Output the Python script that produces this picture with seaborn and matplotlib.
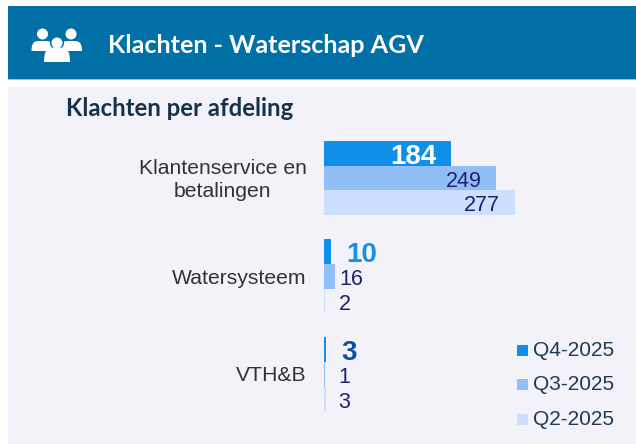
import matplotlib
matplotlib.use("Agg")
import matplotlib.pyplot as plt
import matplotlib.transforms as mtrans
import seaborn as sns
import pandas as pd
from matplotlib.patches import Rectangle, Circle, PathPatch
from matplotlib.path import Path

departments = ["Klantenservice en\nbetalingen", "Watersysteem", "VTH&B"]
quarters = ["Q4-2025", "Q3-2025", "Q2-2025"]
q4_values = [184, 10, 3]
q3_values = [249, 16, 1]
q2_values = [277, 2, 3]
title_text = "Klachten - Waterschap AGV"
subtitle_text = "Klachten per afdeling"

bar_colors = ["#0F8FE8", "#92BEF8", "#CCDFFC"]
panel_bg = "#F2F2F8"
header_bg = "#0070A6"

df = pd.DataFrame({
    "afdeling": departments * 3,
    "kwartaal": [q for q in quarters for _ in departments],
    "klachten": q4_values + q3_values + q2_values,
})

W, H = 636, 444
sns.set_theme(style="white")
plt.rcParams["font.family"] = ["Liberation Sans", "DejaVu Sans"]
fig = plt.figure(figsize=(W / 100, H / 100), dpi=100, facecolor="white")

# background layer in pixel coordinates
bg = fig.add_axes([0, 0, 1, 1], zorder=0)
bg.set_xlim(0, W)
bg.set_ylim(H, 0)
bg.axis("off")
bg.add_patch(Rectangle((8, 87), W - 8, H - 87, fc=panel_bg, ec="none"))
bg.add_patch(Rectangle((8, 6), W - 8, 73.5, fc=header_bg, ec="none"))
bg.plot([8, W], [79.5, 79.5], color="#8CC3DE", lw=0.8)


def body(cx, top, bottom, half):
    verts = [(cx - half, bottom), (cx - half, top - 1), (cx - half * .55, top), (cx, top),
             (cx + half * .55, top), (cx + half, top - 1), (cx + half, bottom), (cx - half, bottom)]
    codes = [Path.MOVETO, Path.CURVE4, Path.CURVE4, Path.CURVE4,
             Path.CURVE4, Path.CURVE4, Path.CURVE4, Path.CLOSEPOLY]
    return PathPatch(Path(verts, codes), fc="white", ec="none")


for cx, cy, top, bottom, half in [(42.5, 34, 41, 51, 11), (71, 34, 41, 51, 11)]:
    bg.add_patch(Circle((cx, cy), 5.5, fc="white", ec="none"))
    bg.add_patch(body(cx, top, bottom, half))
bg.add_patch(Circle((57, 43), 7, fc=header_bg, ec="none"))
bg.add_patch(body(57, 47.5, 62, 13))
bg.add_patch(Circle((57, 43), 5.5, fc="white", ec="none"))
bg.add_patch(body(57, 50, 60, 10.5))

bg.text(108, 45.5, title_text, color="white", fontsize=18.1, fontweight="bold",
        family=["Lato", "DejaVu Sans"], va="center", ha="left")
bg.text(66, 108.5, subtitle_text, color="#17324A", fontsize=17.2, fontweight="bold",
        family=["Lato", "DejaVu Sans"], va="center", ha="left")

# chart axes
left, top, bottom = 324, 129, 423.5
ax = fig.add_axes([left / W, 1 - bottom / H, (W - left) / W, (bottom - top) / H], zorder=1)
ax.patch.set_alpha(0)
sns.barplot(data=df, y="afdeling", x="klachten", hue="kwartaal", order=departments,
            hue_order=quarters, palette=bar_colors, saturation=1, width=0.755, gap=0,
            orient="h", ax=ax, legend=False, linewidth=0)
ax.set_xlim(0, (W - left) / 0.69)
ax.set_xlabel("")
ax.set_ylabel("")
ax.set_xticks([])
sns.despine(ax=ax, left=True, bottom=True)
ax.tick_params(axis="y", length=0, pad=12.5, labelsize=15.2, labelcolor="#333333")
for t in ax.get_yticklabels():
    t.set_multialignment("center")
    t.set_linespacing(1.25)
# nudge tick labels to their reference height
for t, dy in zip(ax.get_yticklabels(), [2, 0, 1]):
    t.set_transform(t.get_transform() + mtrans.Affine2D().translate(0, dy))

# labels: (offset px, ha, size, weight, colour) per bar
styles = [
    [(-14, "right", 20, "bold", "white"), (15, "left", 20, "bold", "#1A8FE3"), (15.5, "left", 20, "bold", "#0B4EA2")],
    [(-14, "right", 15.5, "normal", "#1F1F70"), (4, "left", 15.5, "normal", "#1F1F70"), (14, "left", 15.5, "normal", "#1F1F70")],
    [(-15.5, "right", 15.5, "normal", "#1F1F70"), (13, "left", 15.5, "normal", "#1F1F70"), (12, "left", 15.5, "normal", "#1F1F70")],
]
for container, style in zip(ax.containers, styles):
    for rect, (dx, ha, size, weight, color) in zip(container, style):
        ax.annotate(f"{int(rect.get_width())}",
                    (rect.get_width(), rect.get_y() + rect.get_height() / 2),
                    xytext=(dx * 0.72, -0.5), textcoords="offset points",
                    ha=ha, va="center_baseline", fontsize=size, fontweight=weight, color=color)

# legend
for i, (q, c) in enumerate(zip(quarters, bar_colors)):
    y = 350 + i * 34.7
    bg.add_patch(Rectangle((517, y - 5.5), 11, 11, fc=c, ec="none"))
    bg.text(533, y, q, fontsize=15, color="#1F3A52", va="center", ha="left")

fig.savefig("out.png", dpi=100, facecolor="white")
